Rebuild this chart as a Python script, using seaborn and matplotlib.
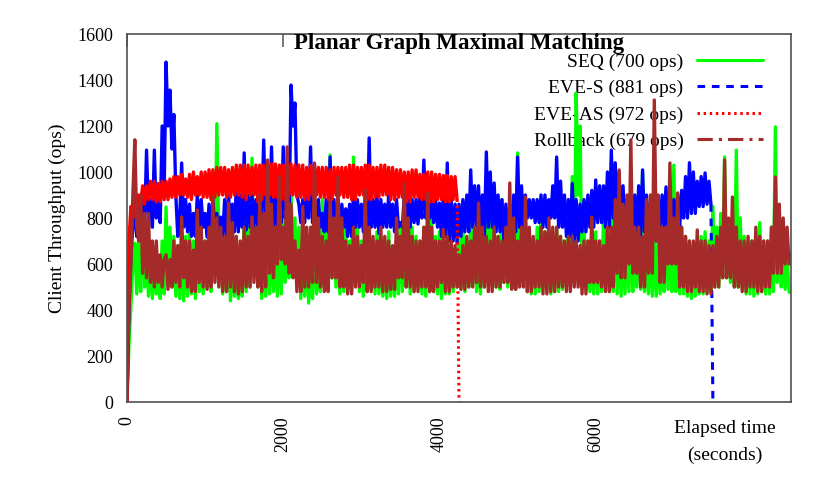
import numpy as np
import matplotlib
matplotlib.use("Agg")
import matplotlib.pyplot as plt
from matplotlib.lines import Line2D
import seaborn as sns

# sampling interval of the client log (seconds)
STEP = 25

# SEQ throughput, t = 0 .. 8500
seq = [
    0, 250, 420, 600, 690, 470, 720, 480, 900, 500, 640, 460, 650, 450, 600, 470, 620, 450, 700, 470,
    848, 520, 760, 500, 720, 460, 680, 450, 660, 440, 720, 460, 740, 470, 700, 450, 760, 480, 680, 470,
    700, 500, 760, 480, 900, 620, 1210, 700, 620, 470, 660, 480, 700, 440, 640, 460, 680, 450, 640, 460,
    820, 480, 760, 500, 1060, 560, 760, 500, 760, 450, 700, 460, 820, 470, 760, 480, 700, 460, 740, 470,
    800, 520, 760, 540, 940, 560, 800, 500, 760, 450, 720, 460, 700, 430, 660, 450, 760, 470, 720, 480,
    880, 500, 760, 520, 1074, 540, 720, 500, 720, 470, 680, 480, 760, 500, 700, 480, 1065, 520, 760, 480,
    700, 460, 760, 480, 820, 490, 700, 470, 740, 470, 680, 460, 700, 450, 740, 460, 660, 460, 700, 470,
    780, 480, 720, 500, 848, 470, 760, 480, 720, 500, 700, 470, 760, 460, 700, 480, 800, 480, 720, 470,
    740, 450, 700, 470, 700, 470, 660, 480, 660, 500, 720, 490, 760, 480, 700, 500, 800, 510, 760, 480,
    700, 470, 760, 500, 935, 540, 820, 520, 760, 500, 720, 490, 880, 520, 760, 500, 720, 500, 760, 490,
    1083, 540, 880, 520, 760, 480, 720, 470, 700, 470, 760, 480, 865, 500, 740, 480, 720, 470, 700, 480,
    760, 480, 720, 490, 700, 500, 760, 520, 980, 600, 1343, 900, 1200, 520, 760, 500, 700, 480, 680, 470,
    740, 470, 700, 480, 800, 500, 760, 480, 980, 480, 820, 470, 760, 460, 720, 470, 700, 480, 760, 480,
    880, 500, 820, 490, 1000, 480, 780, 470, 760, 460, 720, 460, 700, 470, 760, 480, 920, 490, 800, 480,
    1030, 480, 820, 470, 760, 470, 720, 460, 700, 450, 660, 460, 680, 470, 720, 470, 740, 480, 700, 480,
    850, 500, 760, 500, 820, 540, 1065, 540, 760, 520, 760, 500, 1095, 500, 800, 500, 720, 470, 700, 470,
    700, 460, 720, 470, 780, 480, 700, 470, 700, 470, 760, 480, 1196, 520, 760, 500, 660, 490, 640, 480,
    480,
]

# EVE-S throughput, t = 0 .. 7500 (client stops)
eve_s = [
    0, 400, 640, 760, 820, 720, 880, 740, 900, 760, 1095, 820, 880, 760, 1095, 800, 900, 780, 1200, 900,
    1478, 1200, 1356, 1100, 1250, 900, 720, 800, 1039, 760, 880, 740, 860, 720, 820, 720, 900, 760, 880, 760,
    820, 717, 860, 720, 880, 740, 820, 720, 804, 720, 880, 720, 900, 760, 860, 740, 940, 740, 900, 760,
    1083, 748, 900, 760, 900, 760, 880, 760, 880, 800, 1139, 800, 900, 800, 1109, 760, 900, 760, 900, 780,
    1109, 800, 900, 800, 1378, 1200, 1300, 900, 860, 780, 880, 780, 900, 800, 1109, 780, 880, 760, 880, 760,
    820, 740, 880, 740, 1065, 717, 880, 720, 880, 760, 860, 760, 840, 720, 860, 720, 900, 760, 880, 760,
    860, 740, 900, 740, 1148, 760, 880, 760, 900, 733, 880, 760, 860, 760, 900, 760, 860, 740, 880, 760,
    780, 760, 900, 760, 880, 760, 880, 780, 880, 774, 900, 800, 1052, 800, 900, 800, 880, 780, 880, 760,
    865, 720, 900, 720, 1039, 700, 880, 700, 860, 691, 860, 720, 880, 740, 900, 740, 1009, 760, 940, 760,
    940, 720, 900, 720, 1087, 760, 1000, 760, 952, 740, 900, 740, 880, 700, 860, 700, 860, 740, 900, 740,
    1065, 760, 940, 760, 900, 800, 880, 800, 880, 780, 880, 780, 900, 760, 900, 760, 880, 800, 940, 800,
    1065, 760, 960, 760, 900, 720, 880, 720, 950, 700, 880, 700, 860, 740, 880, 740, 900, 760, 920, 760,
    965, 780, 940, 780, 940, 760, 1000, 760, 1095, 800, 1040, 800, 1000, 740, 940, 740, 880, 760, 900, 760,
    900, 720, 940, 720, 1009, 740, 900, 740, 860, 700, 860, 700, 880, 760, 900, 760, 935, 740, 900, 740,
    880, 760, 900, 760, 920, 800, 980, 800, 1040, 820, 1000, 820, 960, 850, 980, 850, 996, 860, 960, 860,
    0,
]

# EVE-AS throughput, t = 0 .. 4250 (client stops)
eve_as = [
    0, 700, 850, 800, 900, 820, 900, 860, 940, 860, 940, 880, 960, 880, 960, 870, 950, 870, 960, 880,
    960, 880, 970, 890, 980, 890, 980, 900, 990, 900, 970, 890, 990, 880, 1000, 900, 980, 900, 1000, 890,
    1000, 890, 1010, 880, 1010, 890, 1020, 900, 1020, 900, 1020, 890, 1010, 890, 1020, 900, 1030, 900, 1030, 890,
    1030, 880, 1030, 900, 1020, 900, 1030, 870, 1030, 880, 1030, 900, 1030, 900, 1035, 890, 1035, 890, 1030, 880,
    1030, 880, 1035, 900, 1035, 900, 1030, 890, 1030, 890, 1030, 880, 1020, 880, 1030, 900, 1030, 900, 1020, 890,
    1020, 890, 1020, 880, 1010, 880, 1020, 900, 1020, 900, 1020, 890, 1020, 890, 1030, 880, 1030, 880, 1020, 900,
    1020, 900, 1030, 880, 1030, 880, 1020, 890, 1020, 890, 1030, 900, 1030, 900, 1020, 880, 1020, 880, 1010, 890,
    1010, 890, 1000, 870, 1000, 870, 1009, 890, 1009, 890, 990, 880, 990, 880, 1000, 870, 1000, 870, 990, 880,
    990, 880, 985, 870, 985, 870, 980, 880, 980, 880, 0,
]

# Rollback throughput, t = 0 .. 8500
rollback = [
    0, 400, 600, 900, 1140, 760, 700, 900, 560, 820, 540, 820, 520, 700, 500, 700, 520, 640, 500, 620,
    640, 490, 620, 500, 700, 520, 680, 500, 804, 540, 700, 500, 700, 480, 660, 480, 835, 520, 760, 500,
    700, 490, 760, 500, 891, 520, 800, 500, 760, 480, 720, 480, 865, 500, 780, 480, 720, 470, 700, 480,
    760, 500, 720, 500, 804, 520, 760, 500, 900, 480, 820, 500, 1052, 560, 860, 540, 760, 600, 980, 620,
    760, 600, 1109, 560, 860, 540, 700, 480, 660, 480, 850, 500, 760, 500, 760, 520, 1039, 520, 800, 500,
    720, 480, 700, 480, 880, 540, 800, 540, 978, 500, 800, 500, 700, 470, 680, 470, 760, 500, 720, 500,
    680, 520, 922, 480, 760, 480, 720, 500, 700, 500, 760, 480, 720, 480, 700, 490, 680, 490, 800, 540,
    720, 540, 952, 500, 800, 500, 720, 480, 700, 480, 700, 500, 760, 500, 909, 480, 760, 480, 700, 500,
    700, 520, 750, 480, 720, 480, 700, 500, 680, 500, 640, 490, 680, 490, 720, 500, 700, 500, 760, 520,
    865, 500, 760, 500, 720, 480, 700, 480, 760, 500, 720, 500, 700, 520, 760, 520, 952, 490, 800, 490,
    700, 500, 760, 500, 891, 480, 760, 480, 720, 500, 700, 500, 760, 470, 740, 470, 800, 480, 760, 480,
    760, 500, 720, 500, 700, 480, 720, 480, 720, 500, 700, 500, 680, 470, 700, 470, 700, 520, 804, 520,
    700, 520, 700, 500, 680, 480, 760, 480, 760, 500, 880, 560, 1009, 540, 860, 540, 900, 600, 1139, 560,
    760, 560, 760, 500, 720, 500, 880, 560, 900, 560, 1313, 700, 900, 520, 760, 520, 760, 600, 1039, 600,
    800, 600, 909, 500, 760, 500, 720, 480, 700, 480, 700, 500, 748, 480, 700, 480, 700, 470, 680, 470,
    680, 500, 720, 500, 760, 540, 1052, 540, 800, 540, 891, 500, 760, 500, 700, 480, 700, 480, 720, 500,
    700, 500, 760, 480, 720, 480, 700, 500, 700, 500, 760, 560, 978, 560, 860, 560, 800, 600, 760, 600,
    650,
]

labels = ["SEQ (700 ops)", "EVE-S (881 ops)", "EVE-AS (972 ops)", "Rollback (679 ops)"]
x_ticks = [0, 2000, 4000, 6000]
y_ticks = [0, 200, 400, 600, 800, 1000, 1200, 1400, 1600]

sns.set_theme(style="white")
plt.rcParams["font.family"] = ["Liberation Serif", "DejaVu Serif"]
plt.rcParams["text.color"] = "black"
plt.rcParams["axes.labelcolor"] = "black"

fig = plt.figure(figsize=(8.3, 4.98), dpi=100)
ax = fig.add_axes([127 / 830, 1 - 402 / 498, 664 / 830, 368 / 498])

series = [
    (seq, "#00ff00", "-"),
    (eve_s, "#0000ff", (0, (2.5, 2.2))),
    (eve_as, "#ff0000", (0, (0.8, 1.2))),
    (rollback, "#a52a2a", (0, (5, 2, 1, 2))),
]
handles = []
for vals, color, ls in series:
    t = np.arange(len(vals)) * STEP
    # dense log: the body reads as a solid band
    sns.lineplot(x=t[:-1], y=vals[:-1], ax=ax, color=color, lw=2.4, sort=False)
    # last segment (end of run) keeps the series dash style
    sns.lineplot(x=t[-2:], y=vals[-2:], ax=ax, color=color, lw=2.2,
                 linestyle=ls, sort=False)
    handles.append(Line2D([], [], color=color, lw=2.2, linestyle=ls))

ax.set_xlim(0, 8500)
ax.set_ylim(0, 1600)
ax.set_xticks(x_ticks)
ax.set_yticks(y_ticks)
ax.tick_params(axis="x", labelrotation=90, direction="in", length=9.5,
               top=True, labelsize=13, pad=10, width=1.2, color="#606060",
               labelcolor="black")
ax.tick_params(axis="y", direction="in", length=9.5, right=False,
               labelsize=13, pad=10, width=1.2, color="#606060",
               labelcolor="black")
for s in ax.spines.values():
    s.set_color("#505050")
    s.set_linewidth(1.2)

ax.set_ylabel("Client Throughput (ops)", fontsize=14, labelpad=8)
ax.set_xlabel("Elapsed time\n(seconds)", fontsize=14, linespacing=1.7)
ax.xaxis.set_label_coords(0.90, -0.05)
ax.text(0.5, 0.974, "Planar Graph Maximal Matching", transform=ax.transAxes,
        ha="center", va="center", fontsize=16.5, fontweight="bold")

leg = ax.legend(handles, labels, loc="upper right", bbox_to_anchor=(0.958, 0.948),
                frameon=False, markerfirst=False, fontsize=14, handlelength=3.4,
                handletextpad=0.7, labelspacing=0.45, borderpad=0, borderaxespad=0)
leg.set_zorder(1)  # curves are drawn over the key, as in the original

fig.savefig("out.png", dpi=100)
